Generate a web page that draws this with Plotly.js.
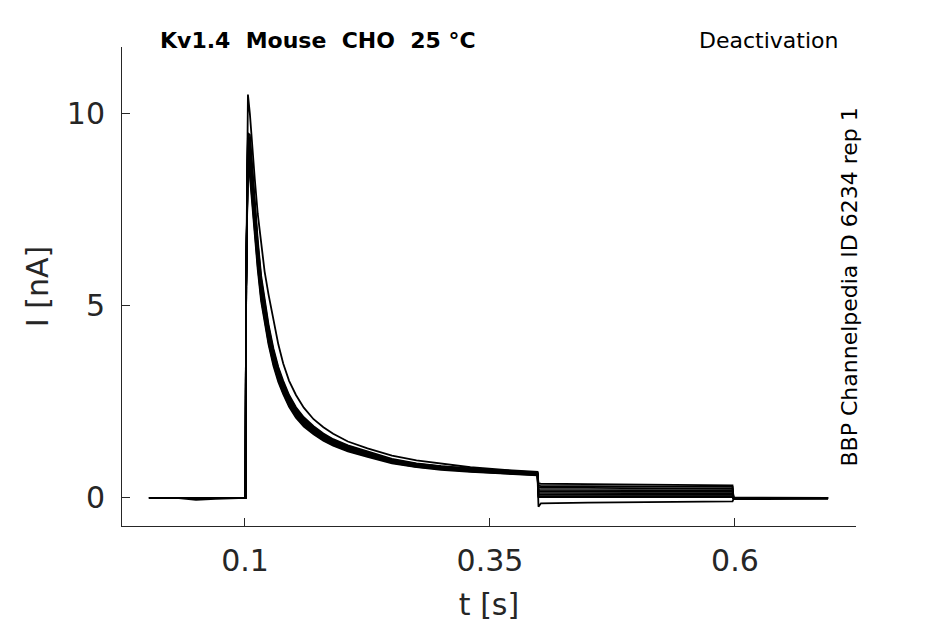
<!DOCTYPE html>
<html>
<head>
<meta charset="utf-8">
<script src="https://cdn.plot.ly/plotly-3.0.1.min.js"></script>
<style>
  html, body { margin: 0; padding: 0; background: #fff; }
  #myDiv { width: 945px; height: 624px; }
</style>
</head>
<body>
<div id="myDiv"></div>
<script>
// sample times (s), shared by every sweep:
// baseline, step onset, peak + decay, tail step (0.4 - 0.6 s), return to holding
var tSweep = [0.002, 0.03, 0.05, 0.07, 0.1005,
  0.1012,
  0.103, 0.105, 0.1075, 0.110, 0.113, 0.1165, 0.120, 0.124, 0.129, 0.134, 0.139, 0.145,
  0.152, 0.160, 0.170, 0.180, 0.190, 0.205, 0.225, 0.250, 0.275, 0.300, 0.330, 0.365, 0.3985,
  0.3995, 0.402, 0.45, 0.5, 0.55, 0.5975,
  0.5985, 0.65, 0.695];

// current (nA) per sweep
var sweep1 = [0, 0.01, 0, 0, 0, 5.5,
  9.5, 9.45, 8.61, 7.67, 6.72, 5.78, 5.15, 4.52, 3.89, 3.41, 3.05, 2.68,
  2.36, 2.10, 1.87, 1.68, 1.53, 1.37, 1.21, 1.02, 0.90, 0.83, 0.77, 0.71, 0.66,
  0.38, 0.37, 0.36, 0.35, 0.34, 0.33,
  0.01, 0, 0];
var sweep2 = [0, 0, 0.01, 0, 0, 5.5,
  9.45, 9.32, 8.49, 7.56, 6.62, 5.69, 5.07, 4.45, 3.83, 3.36, 3.00, 2.64,
  2.33, 2.07, 1.84, 1.66, 1.51, 1.35, 1.19, 1.00, 0.89, 0.82, 0.76, 0.70, 0.65,
  0.32, 0.31, 0.31, 0.30, 0.29, 0.29,
  0, 0.01, 0];
var sweep3 = [0, -0.01, 0, 0, 0, 5.5,
  9.4, 9.18, 8.36, 7.45, 6.53, 5.61, 5.00, 4.39, 3.77, 3.32, 2.96, 2.60,
  2.30, 2.04, 1.82, 1.63, 1.49, 1.33, 1.17, 0.99, 0.88, 0.81, 0.74, 0.69, 0.64,
  0.27, 0.26, 0.26, 0.25, 0.25, 0.24,
  0, 0, -0.01];
var sweep4 = [0, 0, 0, 0.01, 0, 5.5,
  9.3, 9.05, 8.24, 7.34, 6.43, 5.53, 4.92, 4.32, 3.72, 3.27, 2.91, 2.56,
  2.26, 2.01, 1.79, 1.61, 1.47, 1.31, 1.16, 0.97, 0.86, 0.79, 0.73, 0.68, 0.63,
  0.18, 0.17, 0.17, 0.17, 0.16, 0.16,
  0, 0, 0];
var sweep5 = [0, 0, -0.05, -0.02, 0, 5.5,
  9.3, 8.91, 8.12, 7.23, 6.34, 5.45, 4.85, 4.26, 3.66, 3.22, 2.87, 2.52,
  2.23, 1.98, 1.76, 1.58, 1.45, 1.29, 1.14, 0.96, 0.85, 0.78, 0.72, 0.67, 0.62,
  0.13, 0.13, 0.13, 0.12, 0.12, 0.12,
  0, -0.01, 0];
var sweep6 = [0, 0, 0, 0, 0, 5.5,
  9.2, 8.78, 8.00, 7.12, 6.24, 5.36, 4.78, 4.19, 3.61, 3.17, 2.83, 2.49,
  2.19, 1.95, 1.74, 1.56, 1.42, 1.27, 1.12, 0.95, 0.84, 0.77, 0.71, 0.66, 0.61,
  0.09, 0.09, 0.09, 0.09, 0.08, 0.08,
  0, 0, 0];
var sweep7 = [0, 0.01, 0, 0, 0, 5.5,
  9.1, 8.64, 7.87, 7.01, 6.14, 5.28, 4.70, 4.13, 3.55, 3.12, 2.78, 2.45,
  2.16, 1.92, 1.71, 1.54, 1.40, 1.25, 1.10, 0.93, 0.83, 0.76, 0.70, 0.65, 0.60,
  0.05, 0.05, 0.05, 0.05, 0.05, 0.05,
  -0.01, 0, 0];
var sweep8 = [0, 0, 0, 0, 0, 5.5,
  9.0, 8.51, 7.75, 6.90, 6.05, 5.20, 4.63, 4.06, 3.50, 3.07, 2.74, 2.41,
  2.13, 1.89, 1.68, 1.51, 1.38, 1.23, 1.09, 0.92, 0.81, 0.75, 0.69, 0.64, 0.60,
  0.02, 0.02, 0.02, 0.02, 0.02, 0.02,
  0, 0, 0];
var sweep9 = [0, 0, 0, 0, 0, 5.5,
  8.9, 8.37, 7.63, 6.79, 5.95, 5.12, 4.56, 4.00, 3.44, 3.02, 2.70, 2.37,
  2.09, 1.86, 1.66, 1.49, 1.36, 1.21, 1.07, 0.90, 0.80, 0.73, 0.68, 0.63, 0.59,
  -0.23, -0.14, -0.12, -0.11, -0.10, -0.09,
  -0.03, -0.02, -0.02];
var sweep10 = [0, 0, 0, 0, 0, 5.5,
  10.5, 10.0, 9.1, 8.3, 7.4, 6.6, 5.9, 5.3, 4.6, 4.0, 3.5, 3.05,
  2.68, 2.35, 2.05, 1.84, 1.67, 1.47, 1.29, 1.10, 0.98, 0.89, 0.80, 0.73, 0.68,
  0.21, 0.21, 0.21, 0.20, 0.20, 0.20,
  0, 0, 0];

var sweeps = [sweep1, sweep2, sweep3, sweep4, sweep5, sweep6, sweep7, sweep8, sweep9, sweep10];

var xTicks = [0.1, 0.35, 0.6];
var xTickText = ['0.1', '0.35', '0.6'];
var yTicks = [0, 5, 10];

var data = sweeps.map(function (s) {
  return {
    x: tSweep,
    y: s,
    mode: 'lines',
    line: { color: '#000000', width: 1.8 },
    hoverinfo: 'skip',
    showlegend: false
  };
});

var axisFont = { family: 'DejaVu Sans, sans-serif', size: 30, color: '#262626' };
var noteFont = { family: 'DejaVu Sans, sans-serif', size: 22, color: '#000000' };

var layout = {
  width: 945,
  height: 624,
  margin: { l: 122, r: 89, t: 47, b: 98 },
  paper_bgcolor: '#ffffff',
  plot_bgcolor: '#ffffff',
  showlegend: false,
  xaxis: {
    range: [-0.0255, 0.7235],
    tickvals: xTicks,
    ticktext: xTickText,
    ticks: 'inside',
    ticklen: 8,
    tickwidth: 1,
    tickcolor: '#262626',
    showline: true,
    linecolor: '#262626',
    linewidth: 1,
    showgrid: false,
    zeroline: false,
    tickfont: axisFont,
    ticklabelstandoff: 8,
    title: { text: 't [s]', font: axisFont, standoff: 16 }
  },
  yaxis: {
    range: [-0.73, 11.74],
    tickvals: yTicks,
    ticks: 'inside',
    ticklen: 8,
    tickwidth: 1,
    tickcolor: '#262626',
    showline: true,
    linecolor: '#262626',
    linewidth: 1,
    showgrid: false,
    zeroline: false,
    tickfont: axisFont,
    ticklabelstandoff: 10,
    title: { text: 'I [nA]', font: axisFont, standoff: 9 }
  },
  annotations: [
    {
      text: '<b>Kv1.4  Mouse  CHO  25 °C</b>',
      xref: 'paper', yref: 'paper', x: 0.0490, y: 1.0146,
      xanchor: 'left', yanchor: 'middle', showarrow: false,
      font: noteFont
    },
    {
      text: 'Deactivation',
      xref: 'paper', yref: 'paper', x: 0.978, y: 1.0146,
      xanchor: 'right', yanchor: 'middle', showarrow: false,
      font: noteFont
    },
    {
      text: 'BBP Channelpedia ID 6234 rep 1',
      xref: 'paper', yref: 'paper', x: 0.9918, y: 0.5,
      xanchor: 'center', yanchor: 'middle', showarrow: false, textangle: -90,
      font: noteFont
    }
  ]
};

Plotly.newPlot('myDiv', data, layout, { staticPlot: true, displayModeBar: false });
</script>
</body>
</html>
